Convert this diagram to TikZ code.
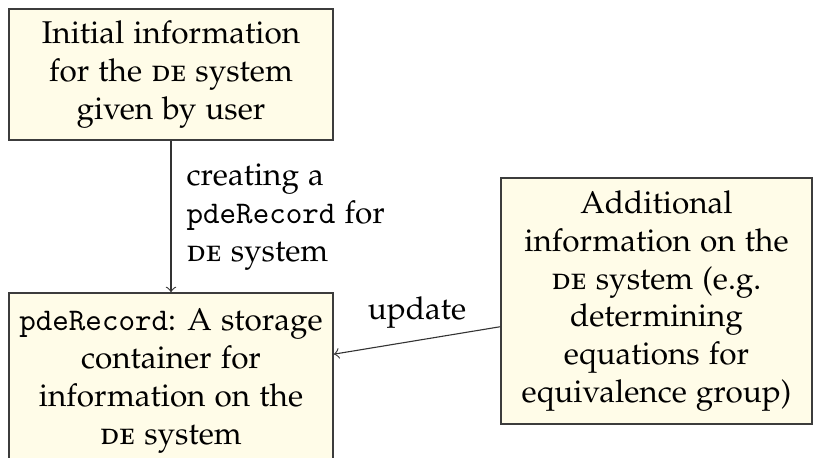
\documentclass[tikz,border=0pt]{standalone}
\usepackage[OT1]{fontenc}
\usepackage[sc]{mathpazo}
\usetikzlibrary{arrows}
\definecolor{boxfill}{RGB}{255,252,232}
\definecolor{boxline}{RGB}{60,60,60}
\tikzset{
  infobox/.style={draw=boxline, line width=0.5pt, fill=boxfill, align=center,
    inner sep=2pt},
  flow/.style={draw=black!80, line width=0.35pt, ->, >=to},
  lbl/.style={align=left, inner sep=0pt}
}
\newcommand{\DE}{\textsc{de}}
% monospaced identifiers in Latin Modern Mono
\newcommand{\code}[1]{{\fontencoding{TU}\fontfamily{lmtt}\selectfont #1}}
\begin{document}
\begin{tikzpicture}[x=0.3175pt, y=-0.3175pt]
  \useasboundingbox (0,0) rectangle (813,457);
  \clip (0,0) rectangle (813,457);
  % input box
  \node[infobox, minimum width=102.9pt, minimum height=41.6pt] (init) at (171,74.5)
    {Initial information\\ for the \DE{} system\\ given by user};
  % record container (runs past the lower edge)
  \node[infobox, minimum width=102.9pt, minimum height=55.9pt] (rec) at (171,381)
    {\code{pdeRecord}: A storage\\ container for\\ information on the\\ \DE{} system};
  % extra information
  \node[infobox, minimum width=98.7pt, minimum height=78.1pt] (extra) at (656.5,301)
    {Additional\\ information on the\\ \DE{} system (e.g.\\ determining\\ equations for\\ equivalence group)};
  % connectors
  \draw[flow] (init) -- (rec);
  \node[lbl, anchor=west] (createlbl) at (186,217)
    {creating a\\ \code{pdeRecord} for\\ \DE{} system};
  \draw[flow] (extra) -- (rec);
  \node[lbl] (updlbl) at (417,312) {update};
\end{tikzpicture}
\end{document}
